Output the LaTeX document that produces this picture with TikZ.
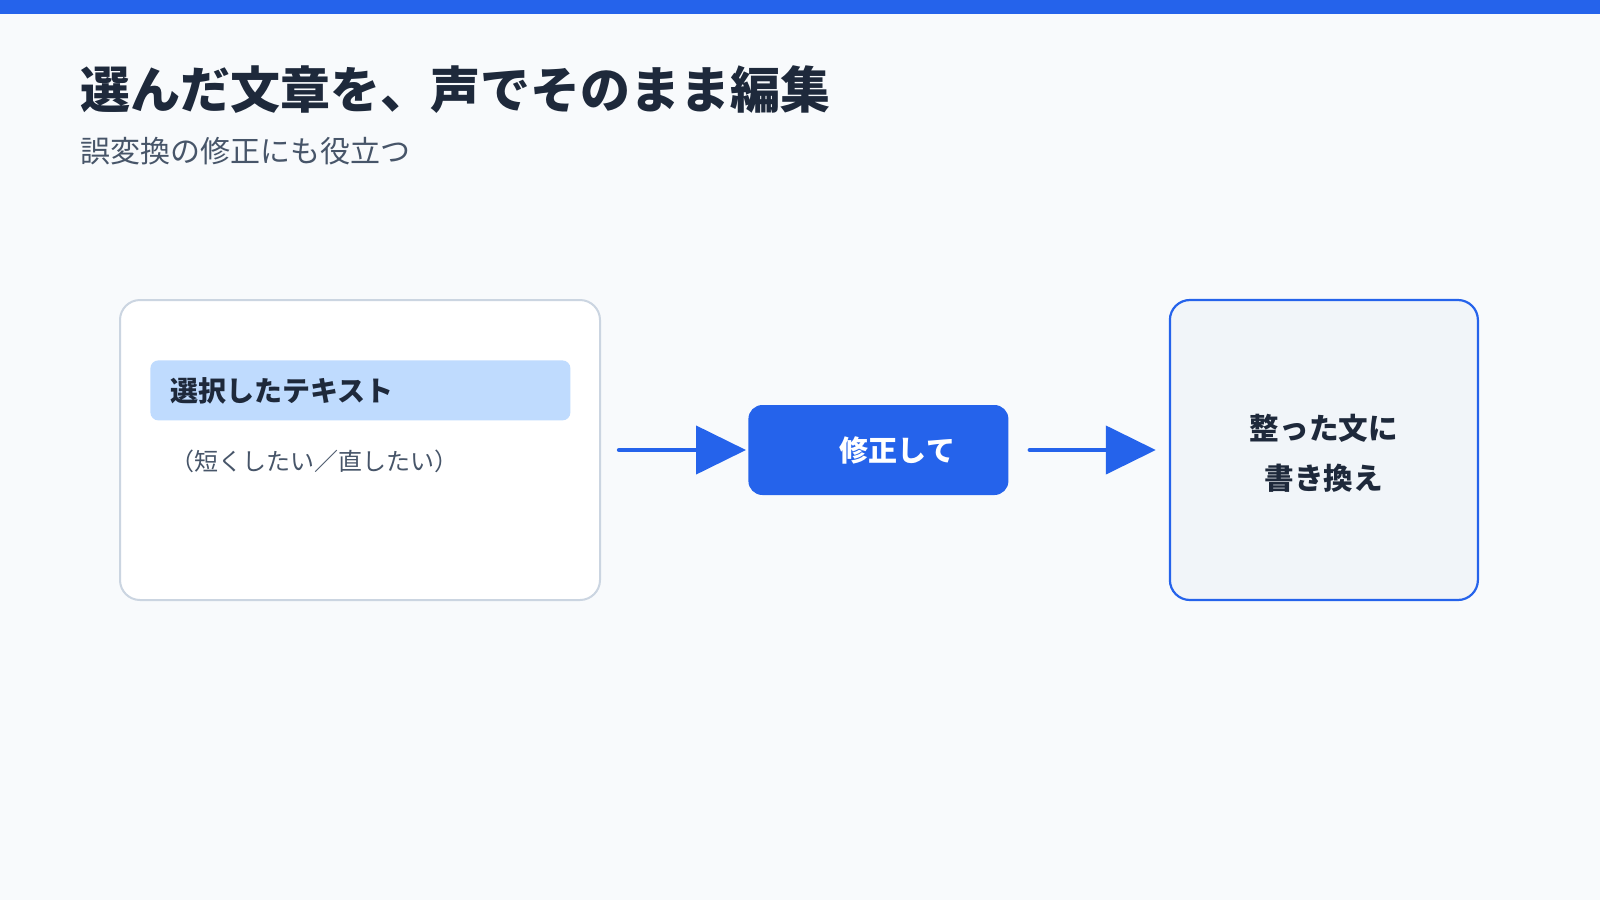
\documentclass[tikz,border=0pt]{standalone}
\usepackage{fontspec}
\setmainfont{Noto Sans CJK JP}
\usetikzlibrary{arrows.meta, positioning}
\definecolor{accent}{HTML}{2563EB}
\definecolor{pagebg}{HTML}{F8FAFC}
\definecolor{ink}{HTML}{1E293B}
\definecolor{subink}{HTML}{475569}
\definecolor{cardline}{HTML}{CBD5E1}
\definecolor{selbg}{HTML}{BFDBFE}
\definecolor{resultbg}{HTML}{F1F5F9}

\begin{document}
\begin{tikzpicture}[
      x=0.5pt, y=-0.5pt,
      card/.style={rectangle, rounded corners=10pt, draw=cardline, line width=1pt, fill=white,
                   minimum width=240pt, minimum height=150pt},
      selbox/.style={rectangle, rounded corners=4pt, fill=selbg, inner xsep=10pt, inner ysep=0pt,
                     text width=190pt, minimum height=30pt, align=left, text=ink,
                     font=\fontsize{14pt}{17pt}\selectfont\bfseries},
      hint/.style={inner sep=0pt, anchor=west, text=subink, font=\fontsize{12pt}{14pt}\selectfont},
      edit/.style={rectangle, rounded corners=7pt, fill=accent, text=white,
                   minimum width=130pt, minimum height=45pt,
                   font=\fontsize{14.5pt}{17pt}\selectfont\bfseries},
      result/.style={rectangle, rounded corners=10pt, draw=accent, line width=1.1pt, fill=resultbg,
                     minimum width=154pt, minimum height=150pt, align=center, text=ink,
                     font=\fontsize{14.8pt}{25pt}\selectfont\bfseries},
      arr/.style={-{Triangle[length=25pt, width=24pt]}, line width=2.2pt, line cap=round, accent}
    ]
      \fill[pagebg] (0,0) rectangle (1600,900);
      \fill[accent] (0,0) rectangle (1600,14);
      \node[anchor=west, inner sep=0pt, text=ink, font=\fontsize{25pt}{30pt}\selectfont\bfseries]
        (title) at (80,90) {選んだ文章を、声でそのまま編集};
      \node[anchor=west, inner sep=0pt, text=subink, font=\fontsize{15pt}{18pt}\selectfont]
        (subtitle) at (80,151) {誤変換の修正にも役立つ};
      \node[card] (src) at (360,450) {};
      \node[selbox, anchor=north west] (sel) at (150,360) {選択したテキスト};
      \node[hint] (hint) at (170,461) {（短くしたい／直したい）};
      \node[edit, right=73.5pt of src] (edit) {\hspace*{19pt}修正して};
      \node[result, right=80pt of edit] (rewrite) {\rule{0pt}{16pt}整った文に\\書き換え};
      \draw[arr, shorten <=9pt, shorten >=1pt] (src) -- (edit);
      \draw[arr, shorten <=10.5pt, shorten >=6.5pt] (edit) -- (rewrite);
    \end{tikzpicture}
\end{document}
